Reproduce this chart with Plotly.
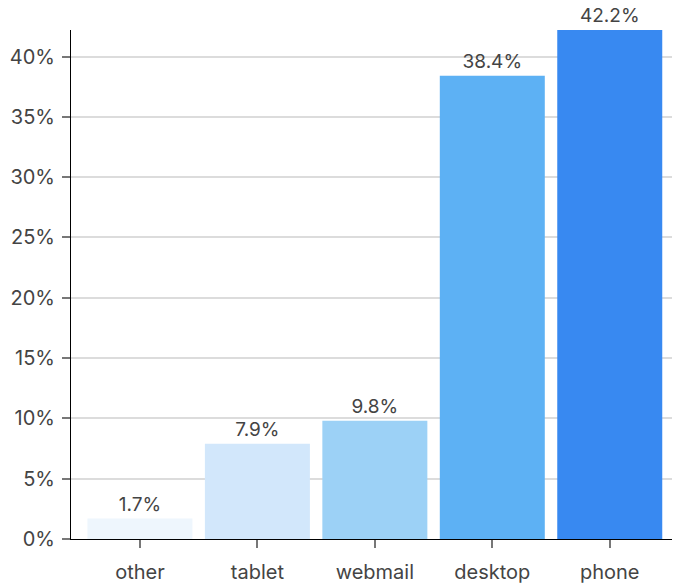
import plotly.graph_objects as go

categories = ["other", "tablet", "webmail", "desktop", "phone"]
values = [1.7, 7.9, 9.8, 38.4, 42.2]
colors = ["#eef6fd", "#d2e7fb", "#9cd1f6", "#5db1f4", "#3889f1"]
labels = [f"{v:.1f}%" for v in values]
yticks = [0, 5, 10, 15, 20, 25, 30, 35, 40]
yticktext = [f"{t}%" for t in yticks]

fig = go.Figure(go.Bar(
    x=categories, y=values, marker=dict(color=colors, line=dict(width=0)),
    text=labels, textposition="outside", cliponaxis=False,
    textfont=dict(size=19, color="#444444"), width=0.894,
))
fig.update_layout(
    width=676, height=585, margin=dict(l=71, r=4, t=30, b=46),
    plot_bgcolor="white", paper_bgcolor="white",
    font=dict(family="Inter, Roboto, sans-serif", size=20, color="#444444"),
    showlegend=False, uniformtext=dict(mode=False),
)
fig.update_xaxes(
    range=[-0.587, 4.53], showline=True, linecolor="black", linewidth=1,
    ticks="outside", ticklen=8, tickcolor="#777777", tickwidth=2,
    tickfont=dict(size=20, color="#444444"), showgrid=False,
    ticklabelstandoff=7, automargin=False,
)
fig.update_yaxes(
    range=[0, 42.2], tickvals=yticks, ticktext=yticktext,
    showline=True, linecolor="black", linewidth=1,
    ticks="outside", ticklen=8, tickcolor="#777777", tickwidth=2,
    gridcolor="#dcdcdc", gridwidth=2, zeroline=False,
    tickfont=dict(size=20, color="#444444"),
    ticklabelstandoff=3, automargin=False,
)
fig.write_html("out.html")
